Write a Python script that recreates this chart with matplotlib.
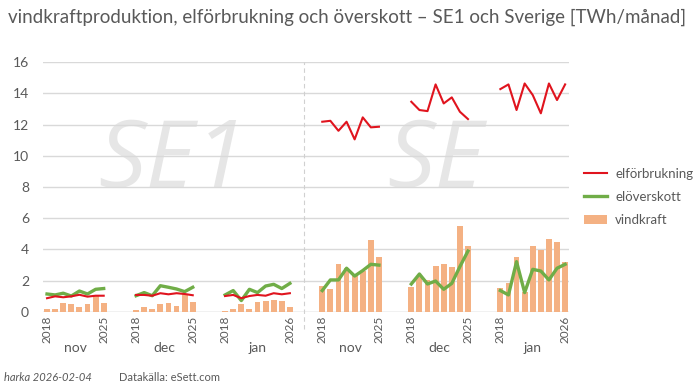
import numpy as np
import matplotlib.pyplot as plt

plt.rcParams['font.family'] = ['Lato', 'DejaVu Sans']

# category labels per month group
years_nov = ['2018', '2025']
years_dec = ['2018', '2025']
years_jan = ['2018', '2026']
months = ['nov', 'dec', 'jan']

# SE1 [TWh/month]
se1_vind_nov = [0.2, 0.2, 0.55, 0.5, 0.3, 0.5, 1.0, 0.6]
se1_vind_dec = [0.13, 0.3, 0.19, 0.51, 0.55, 0.38, 1.13, 0.66]
se1_vind_jan = [0.06, 0.17, 0.49, 0.19, 0.66, 0.7, 0.77, 0.7, 0.32]
se1_forb_nov = [0.88, 1.0, 0.94, 1.0, 1.1, 0.98, 1.04, 1.04]
se1_forb_dec = [1.09, 1.09, 1.04, 1.2, 1.13, 1.2, 1.15, 1.07]
se1_forb_jan = [1.02, 1.09, 0.88, 1.02, 1.09, 1.04, 1.2, 1.13, 1.2]
se1_over_nov = [1.15, 1.09, 1.2, 1.02, 1.34, 1.15, 1.45, 1.5]
se1_over_dec = [1.04, 1.24, 1.04, 1.68, 1.58, 1.47, 1.3, 1.58]
se1_over_jan = [1.09, 1.37, 0.73, 1.45, 1.24, 1.66, 1.77, 1.5, 1.83]

# Sverige (SE) [TWh/month]
se_vind_nov = [1.66, 1.45, 3.1, 2.8, 2.37, 2.6, 4.6, 3.55]
se_vind_dec = [1.62, 2.26, 2.05, 2.94, 3.05, 2.86, 5.52, 4.22]
se_vind_jan = [1.51, 1.83, 3.5, 1.3, 4.22, 3.97, 4.65, 4.5, 3.22]
se_forb_nov = [12.18, 12.24, 11.6, 12.18, 11.05, 12.46, 11.82, 11.86]
se_forb_dec = [13.46, 12.93, 12.86, 14.57, 13.35, 13.74, 12.82, 12.35]
se_forb_jan = [14.27, 14.57, 12.93, 14.63, 13.89, 12.72, 14.63, 13.57, 14.57]
se_over_nov = [1.37, 2.05, 2.05, 2.8, 2.3, 2.65, 3.05, 3.0]
se_over_dec = [1.79, 2.43, 1.79, 1.98, 1.45, 1.83, 2.9, 3.9]
se_over_jan = [1.37, 1.09, 3.22, 1.24, 2.73, 2.62, 2.05, 2.8, 3.05]

vind = [se1_vind_nov, se1_vind_dec, se1_vind_jan, se_vind_nov, se_vind_dec, se_vind_jan]
forb = [se1_forb_nov, se1_forb_dec, se1_forb_jan, se_forb_nov, se_forb_dec, se_forb_jan]
over = [se1_over_nov, se1_over_dec, se1_over_jan, se_over_nov, se_over_dec, se_over_jan]
year_labels = [years_nov, years_dec, years_jan] * 2
group_months = months * 2
starts = [0, 11, 22, 34, 45, 56]

red = '#e0141e'
green = '#70ad47'
orange = '#f4b183'
grey = '#595959'

fig = plt.figure(figsize=(7, 3.88), dpi=100)
ax = fig.add_axes([0.0614, 0.196, 0.7517, 0.644])

for i, s in enumerate(starts):
    x = np.arange(s, s + len(vind[i]))
    ax.bar(x, vind[i], width=0.72, color=orange, zorder=2,
           label='vindkraft' if i == 0 else None)
    ax.plot(x, over[i], color=green, lw=2.4, zorder=3,
            label='elöverskott' if i == 0 else None)
    ax.plot(x, forb[i], color=red, lw=1.5, zorder=4,
            label='elförbrukning' if i == 0 else None)
    # year labels at ends of group
    for xx, lab in zip([x[0], x[-1]], year_labels[i]):
        ax.text(xx, -0.016, lab, rotation=90, ha='center', va='top',
                fontsize=8.5, color=grey, transform=ax.get_xaxis_transform())
    ax.text(x.mean(), -0.145, group_months[i], ha='center', va='center',
            fontsize=10, color=grey, transform=ax.get_xaxis_transform())

# big region labels
ax.text(15.5, 9.6, 'SE1', fontsize=68, style='italic', color='#e6e6e6',
        ha='center', va='center', zorder=0, family=['Open Sans', 'DejaVu Sans'])
ax.text(48, 9.6, 'SE', fontsize=68, style='italic', color='#e6e6e6',
        ha='center', va='center', zorder=0, family=['Open Sans', 'DejaVu Sans'])

# divider between SE1 and SE
ax.plot([31.7, 31.7], [-1.1, 16], ls=(0, (4, 3)), color='#d0d0d0', lw=0.8,
        clip_on=False, zorder=1)

ax.set_xlim(-0.5, 64.5)
ax.set_ylim(0, 16)
ax.set_yticks(range(0, 17, 2))
ax.set_xticks([])
ax.tick_params(axis='y', length=0, labelsize=10, labelcolor=grey, pad=10)
ax.grid(axis='y', color='#d9d9d9', lw=1, zorder=0)
ax.set_axisbelow(True)
for sp in ax.spines.values():
    sp.set_visible(False)
ax.axhline(0, color='#d9d9d9', lw=1, zorder=1)

handles, labels = ax.get_legend_handles_labels()
order = [labels.index(l) for l in ['elförbrukning', 'elöverskott', 'vindkraft']]
ax.legend([handles[k] for k in order], [labels[k] for k in order],
          loc='center left', bbox_to_anchor=(1.01, 0.46), frameon=False,
          fontsize=9.5, labelcolor=grey, handlelength=1.8, handletextpad=0.6,
          labelspacing=0.85, borderaxespad=0.3)

fig.text(0.012, 0.955, 'vindkraftproduktion, elförbrukning och överskott – SE1 och Sverige [TWh/månad]',
         fontsize=13.5, color=grey, va='center', ha='left')
fig.text(0.005, 0.018, 'harka 2026-02-04', fontsize=8, style='italic', color=grey)
fig.text(0.17, 0.018, 'Datakälla: eSett.com', fontsize=8, color=grey)

fig.savefig('out.png', dpi=100)
